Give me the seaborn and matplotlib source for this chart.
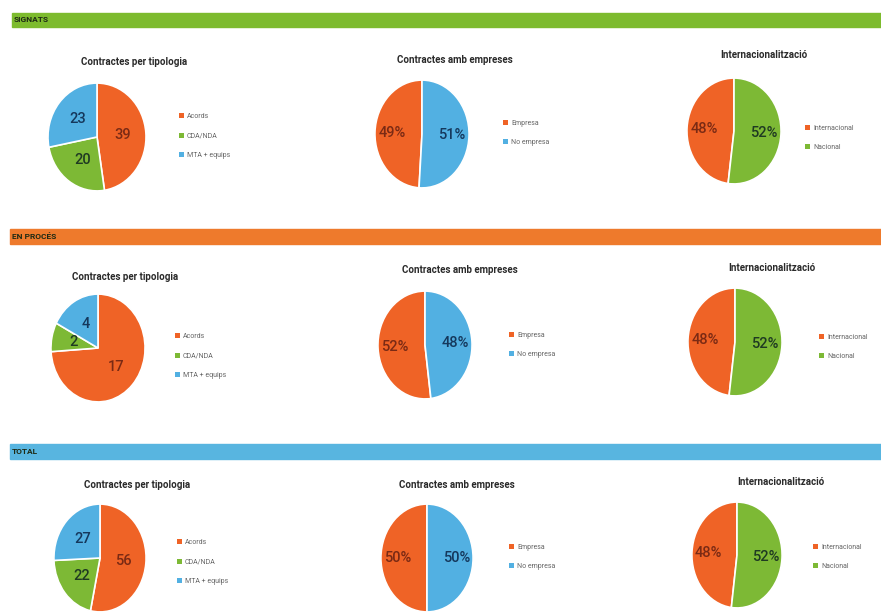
import numpy as np
import matplotlib
matplotlib.use("Agg")
import matplotlib.pyplot as plt
from matplotlib.patches import Rectangle
import seaborn as sns

sns.set_theme(style="white")
plt.rcParams["font.family"] = ["Roboto", "DejaVu Sans"]

W, H = 881, 613

# ---- data ----
SECTIONS = ["SIGNATS", "EN PROCÉS", "TOTAL"]
TITLES = ["Contractes per tipologia", "Contractes amb empreses", "Internacionalització"]

TIPUS_LABELS = ["Acords", "CDA/NDA", "MTA + equips"]
EMPRESA_LABELS = ["Empresa", "No empresa"]
INTER_LABELS = ["Internacional", "Nacional"]

tipus_signats = [39, 20, 23]
tipus_proces  = [17, 2, 4]
tipus_total   = [56, 22, 27]

empresa_signats = [49, 51]
empresa_proces  = [52, 48]
empresa_total   = [50, 50]

inter_signats = [48, 52]
inter_proces  = [48, 52]
inter_total   = [48, 52]

ORANGE, GREEN, BLUE = "#EF6326", "#7DB935", "#52B0E2"
pal = sns.color_palette([ORANGE, GREEN, BLUE])
TXT = {ORANGE: "#7a2a14", GREEN: "#1f3a22", BLUE: "#15385c"}
BAR_COLORS = ["#7DBB2E", "#EE7A2C", "#58B5E0"]
BAR_Y = [(13, 27), (229, 244), (444, 459)]

rows = [
    (tipus_signats, empresa_signats, inter_signats),
    (tipus_proces, empresa_proces, inter_proces),
    (tipus_total, empresa_total, inter_total),
]

# layout in pixels: pie centre x, y, horizontal / vertical radius, title x, y, legend x, y
LAYOUT = [
    [(97, 137, 50, 55, 134, 62, 176, 136), (422, 134, 48, 55, 455, 60, 500, 133), (734, 131, 48, 54, 764, 55, 802, 138)],
    [(98, 348, 48, 55, 125, 277, 172, 356), (425, 345, 48, 55, 460, 270, 506, 345), (735, 342, 48, 55, 772, 268, 816, 347)],
    [(100, 558, 47, 55, 137, 485, 174, 562), (427, 558, 47, 55, 457, 485, 506, 557), (737, 555, 46, 54, 781, 482, 810, 557)],
]

fig = plt.figure(figsize=(W / 100, H / 100), dpi=100)
fig.patch.set_facecolor("white")

# section header bars
for name, col, (y0, y1) in zip(SECTIONS, BAR_COLORS, BAR_Y):
    x0 = 12 if name == "SIGNATS" else 10
    fig.patches.append(Rectangle((x0 / W, 1 - y1 / H), (W - x0) / W, (y1 - y0) / H,
                                 transform=fig.transFigure, color=col, zorder=0))
    fig.text((x0 + 2) / W, 1 - (y0 + y1) / 2 / H, name, fontsize=6, fontweight="bold",
             color="#1e2a14", va="center", ha="left")


def pie_panel(values, labels, colors, lay, title, counts):
    cx, cy, rh, rv, tx, ty, lx, ly = lay
    ax = fig.add_axes([(cx - rh) / W, 1 - (cy + rv) / H, 2 * rh / W, 2 * rv / H])
    total = sum(values)
    if counts:
        fmt = lambda p: f"{round(p * total / 100):d}"
        wedges, _, autotexts = ax.pie(values, colors=colors, startangle=90, counterclock=False,
                                      autopct=fmt, pctdistance=0.52,
                                      wedgeprops=dict(edgecolor="white", linewidth=1.2))
    else:
        fmt = lambda p: f"{p:.0f}%"
        wedges, _, autotexts = ax.pie(values, colors=colors, startangle=90, counterclock=True,
                                      autopct=fmt, pctdistance=0.64,
                                      wedgeprops=dict(edgecolor="white", linewidth=1.2))
    for t, c in zip(autotexts, colors):
        t.set_color(TXT[c])
        t.set_fontsize(10.5)
        t.set_fontweight("medium")
    ax.set_aspect("auto")
    ax.set_xlim(-1.02, 1.02)
    ax.set_ylim(-1.02, 1.02)
    ax.axis("off")
    fig.text(tx / W, 1 - ty / H, title, fontsize=7, fontweight="bold",
             color="#2a2a2a", ha="center", va="center")
    leg = fig.legend(wedges, labels, loc="center left", bbox_to_anchor=(lx / W, 1 - ly / H),
                     frameon=False, fontsize=5, handlelength=0.7, handleheight=0.7,
                     handletextpad=0.4, labelspacing=1.8, borderpad=0, labelcolor="#666666")
    for h in leg.legend_handles:
        h.set_edgecolor("none")


for r, (tip, emp, inter) in enumerate(rows):
    pie_panel(tip, TIPUS_LABELS, [ORANGE, GREEN, BLUE], LAYOUT[r][0], TITLES[0], True)
    pie_panel(emp, EMPRESA_LABELS, [ORANGE, BLUE], LAYOUT[r][1], TITLES[1], False)
    pie_panel(inter, INTER_LABELS, [ORANGE, GREEN], LAYOUT[r][2], TITLES[2], False)

fig.savefig("out.png", dpi=100, facecolor="white")
